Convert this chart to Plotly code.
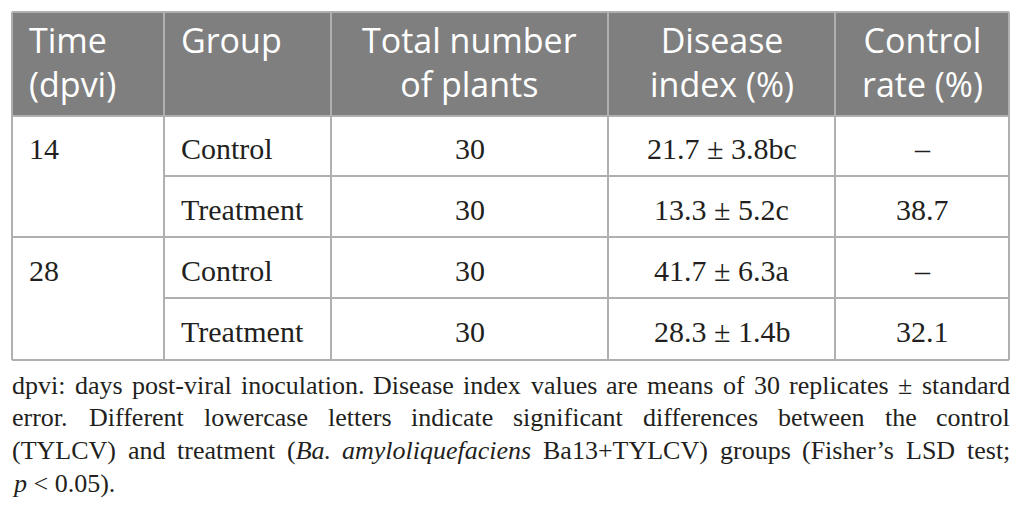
import plotly.graph_objects as go

# ---------------- data ----------------
header_labels = [["Time", "(dpvi)"], ["Group"], ["Total number", "of plants"],
                 ["Disease", "index (%)"], ["Control", "rate (%)"]]
times = ["14", "28"]
groups = ["Control", "Treatment", "Control", "Treatment"]
total_plants = [30, 30, 30, 30]
disease_mean = [21.7, 13.3, 41.7, 28.3]
disease_se = [3.8, 5.2, 6.3, 1.4]
disease_letters = ["bc", "c", "a", "b"]
control_rate = [None, 38.7, None, 32.1]
caption_lines = [
    "dpvi: days post-viral inoculation. Disease index values are means of 30 replicates \u00b1 standard",
    "error. Different lowercase letters indicate significant differences between the control",
    "(TYLCV) and treatment (<i>Ba.</i> <i>amyloliquefaciens</i> Ba13+TYLCV) groups (Fisher\u2019s LSD test;",
    "<i>p</i> < 0.05).",
]
caption_justified = [True, True, True, False]

# ---------------- layout constants ----------------
W, H = 1025, 532
col_edges = [12, 164, 331, 608, 835, 1009]
top, head_bot = 12, 116
row_edges = [116, 176, 237, 298, 360]
col_align = ["left", "left", "center", "center", "center"]
pad_left = 15
HEAD_BG = "#7f7f7f"
GRID = "#b0b0b0"
TXT = "#231f20"
SANS = "Open Sans"
SERIF = "Liberation Serif"
HEAD_SIZE = 34
BODY_SIZE = 30
CAP_SIZE = 26

# Times/Liberation Serif advance widths (1/1000 em) for justification of caption
ROMAN = {" ": 250, "(": 333, ")": 333, "+": 564, ",": 250, "-": 333, ".": 250, ":": 278,
         ";": 278, "<": 564, "\u00b1": 564, "\u2019": 333,
         "A": 722, "B": 667, "C": 667, "D": 722, "E": 611, "F": 556, "G": 722, "H": 722,
         "I": 333, "J": 389, "K": 722, "L": 611, "M": 889, "N": 722, "O": 722, "P": 556,
         "Q": 722, "R": 667, "S": 556, "T": 611, "U": 722, "V": 722, "W": 944, "X": 722,
         "Y": 722, "Z": 611,
         "a": 444, "b": 500, "c": 444, "d": 500, "e": 444, "f": 333, "g": 500, "h": 500,
         "i": 278, "j": 278, "k": 500, "l": 278, "m": 778, "n": 500, "o": 500, "p": 500,
         "q": 500, "r": 333, "s": 389, "t": 278, "u": 500, "v": 500, "w": 722, "x": 500,
         "y": 500, "z": 444}
ITALIC = dict(ROMAN)
ITALIC.update({"B": 611, "a": 500, "f": 278, "m": 722, "r": 389, "v": 444, "y": 444,
               "k": 444, "w": 667})


def text_width(s, size):
    total, italic, i = 0, False, 0
    while i < len(s):
        if s.startswith("<i>", i):
            italic = True
            i += 3
            continue
        if s.startswith("</i>", i):
            italic = False
            i += 4
            continue
        ch = s[i]
        table = ITALIC if italic else ROMAN
        total += table.get(ch, 500)
        i += 1
    return total * size / 1000.0


fig = go.Figure()
shapes = []
annotations = []

# header background
shapes.append(dict(type="rect", xref="x", yref="y", x0=col_edges[0], x1=col_edges[-1],
                   y0=top, y1=head_bot, fillcolor=HEAD_BG, line=dict(width=0), layer="below"))


def hline(y, x0, x1):
    shapes.append(dict(type="line", xref="x", yref="y", x0=x0, x1=x1, y0=y, y1=y,
                       line=dict(color=GRID, width=2)))


def vline(x, y0, y1):
    shapes.append(dict(type="line", xref="x", yref="y", x0=x, x1=x, y0=y0, y1=y1,
                       line=dict(color=GRID, width=2)))


hline(top, col_edges[0], col_edges[-1])
hline(head_bot, col_edges[0], col_edges[-1])
hline(row_edges[1], col_edges[1], col_edges[-1])
hline(row_edges[2], col_edges[0], col_edges[-1])
hline(row_edges[3], col_edges[1], col_edges[-1])
hline(row_edges[4], col_edges[0], col_edges[-1])
for x in col_edges:
    vline(x, top, row_edges[-1])


def cell_x(ci):
    if col_align[ci] == "left":
        return col_edges[ci] + pad_left, "left"
    return (col_edges[ci] + col_edges[ci + 1]) / 2, "center"


def add_text(text, ci, y, size, family, color=TXT):
    x, anchor = cell_x(ci)
    annotations.append(dict(x=x, y=y, xref="x", yref="y", text=text, showarrow=False,
                            xanchor=anchor, yanchor="middle", align=anchor,
                            font=dict(family=family, size=size, color=color)))


# header text
head_center = 62
for ci, lines in enumerate(header_labels):
    if len(lines) == 1:
        add_text(lines[0], ci, 40, HEAD_SIZE, SANS, "#ffffff")
    else:
        add_text("<br>".join(lines), ci, head_center, HEAD_SIZE, SANS, "#ffffff")

# body text
for ri in range(4):
    yc = (row_edges[ri] + row_edges[ri + 1]) / 2 + 2.5
    if ri % 2 == 0:
        add_text(times[ri // 2], 0, yc, BODY_SIZE, SERIF)
    add_text(groups[ri], 1, yc, BODY_SIZE, SERIF)
    add_text(str(total_plants[ri]), 2, yc, BODY_SIZE, SERIF)
    add_text(f"{disease_mean[ri]:.1f} \u00b1 {disease_se[ri]:.1f}{disease_letters[ri]}",
             3, yc, BODY_SIZE, SERIF)
    cr = "\u2013" if control_rate[ri] is None else f"{control_rate[ri]:.1f}"
    add_text(cr, 4, yc, BODY_SIZE, SERIF)

# caption (justified like the reference)
cap_y0, cap_dy = 385, 32.7
cap_left, cap_right = col_edges[0] - 1, col_edges[-1]
for li, line in enumerate(caption_lines):
    y = cap_y0 + li * cap_dy
    if caption_justified[li]:
        words = line.split(" ")
        widths = [text_width(w, CAP_SIZE) for w in words]
        gap = (cap_right - cap_left - sum(widths)) / (len(words) - 1)
        x = cap_left
        for w, wd in zip(words, widths):
            annotations.append(dict(x=x, y=y, xref="x", yref="y", text=w, showarrow=False,
                                    xanchor="left", yanchor="middle", borderpad=0,
                                    font=dict(family=SERIF, size=CAP_SIZE, color=TXT)))
            x += wd + gap
    else:
        annotations.append(dict(x=cap_left, y=y, xref="x", yref="y", text=line,
                                showarrow=False, xanchor="left", yanchor="middle",
                                borderpad=0,
                                font=dict(family=SERIF, size=CAP_SIZE, color=TXT)))

fig.update_layout(
    width=W, height=H,
    margin=dict(l=0, r=0, t=0, b=0),
    paper_bgcolor="white", plot_bgcolor="white",
    xaxis=dict(range=[0, W], visible=False, fixedrange=True),
    yaxis=dict(range=[H, 0], visible=False, fixedrange=True),
    shapes=shapes, annotations=annotations, showlegend=False,
)

fig.write_html("out.html", config={"displayModeBar": False},
               post_script="document.body.style.margin='0px';")
